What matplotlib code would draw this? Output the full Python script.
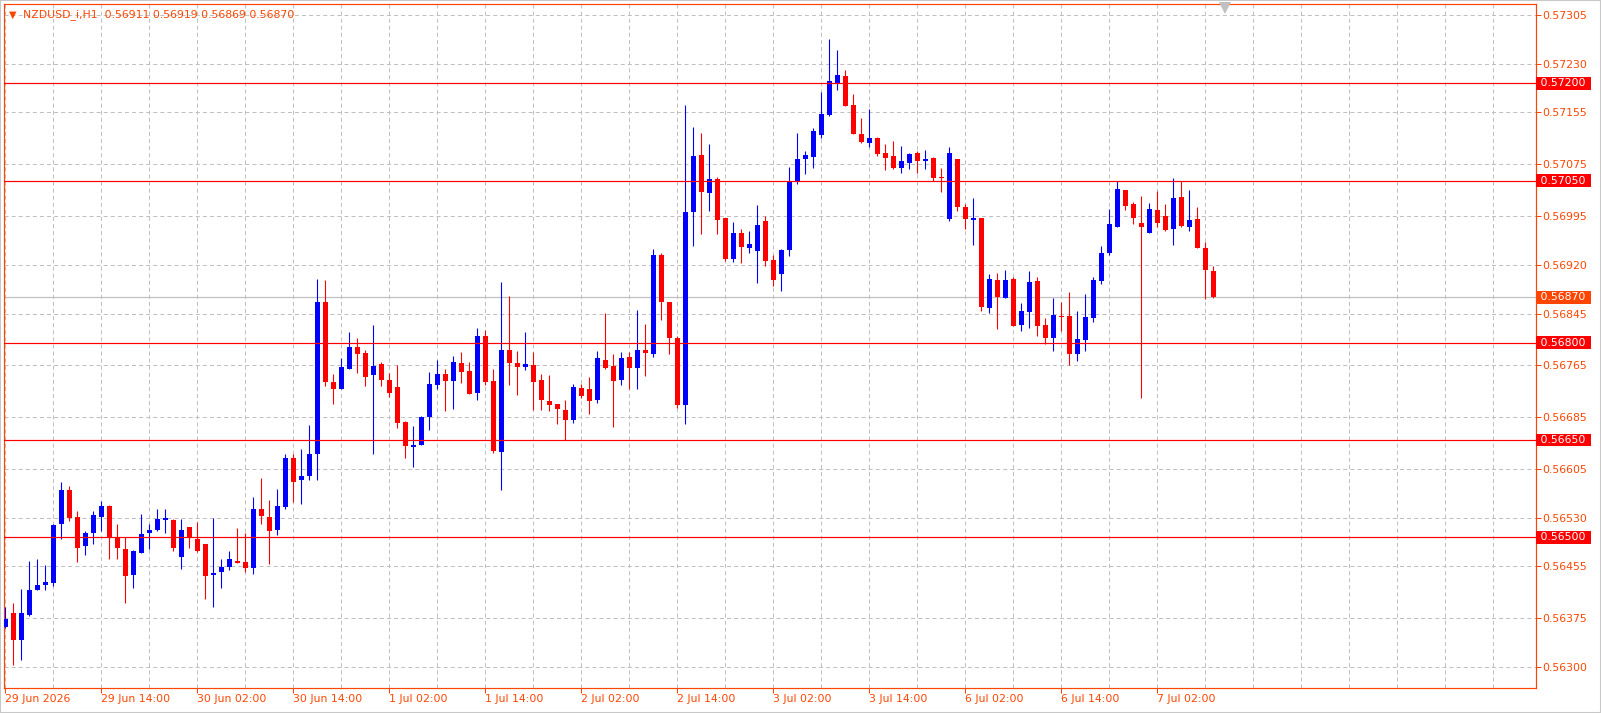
import matplotlib
matplotlib.use('Agg')
import matplotlib.pyplot as plt
from matplotlib.patches import Rectangle
import numpy as np

plt.rcParams['lines.scale_dashes'] = False
plt.rcParams['font.family'] = ['DejaVu Sans']

# H1 bars from 29 Jun 02:00
opens = [0.56362, 0.56383, 0.56341, 0.56380, 0.56419, 0.56427, 0.56429, 0.56520, 0.56573, 0.56531,
         0.56486, 0.56507, 0.56532, 0.56548, 0.56500, 0.56482, 0.56442, 0.56476, 0.56506, 0.56512,
         0.56526, 0.56527, 0.56469, 0.56516, 0.56497, 0.56490, 0.56442, 0.56446, 0.56454, 0.56464,
         0.56462, 0.56452, 0.56544, 0.56531, 0.56511, 0.56546, 0.56623, 0.56588, 0.56594, 0.56628,
         0.56862, 0.56740, 0.56728, 0.56760, 0.56793, 0.56784, 0.56750, 0.56767, 0.56743, 0.56731,
         0.56677, 0.56639, 0.56642, 0.56686, 0.56735, 0.56751, 0.56741, 0.56768, 0.56757, 0.56723,
         0.56811, 0.56741, 0.56632, 0.56789, 0.56769, 0.56763, 0.56766, 0.56743, 0.56710, 0.56706,
         0.56696, 0.56681, 0.56730, 0.56729, 0.56712, 0.56773, 0.56764, 0.56743, 0.56778, 0.56761,
         0.56789, 0.56783, 0.56935, 0.56863, 0.56807, 0.56704, 0.57002, 0.57089, 0.57031, 0.57052,
         0.56992, 0.56929, 0.56969, 0.56946, 0.56941, 0.56988, 0.56928, 0.56906, 0.56943, 0.57048,
         0.57083, 0.57086, 0.57120, 0.57151, 0.57201, 0.57211, 0.57167, 0.57122, 0.57108, 0.57116,
         0.57093, 0.57088, 0.57069, 0.57077, 0.57093, 0.57080, 0.57085, 0.57056, 0.56991, 0.57083,
         0.57009, 0.56989, 0.56992, 0.56854, 0.56897, 0.56869, 0.56898, 0.56827, 0.56847, 0.56895,
         0.56827, 0.56807, 0.56841, 0.56841, 0.56783, 0.56804, 0.56838, 0.56895, 0.56938, 0.56979,
         0.57035, 0.57014, 0.56984, 0.56969, 0.57004, 0.56995, 0.56975, 0.57024, 0.56979, 0.56990,
         0.56946, 0.56911]
highs = [0.56393, 0.56399, 0.56420, 0.56464, 0.56467, 0.56457, 0.56520, 0.56585, 0.56579, 0.56541,
         0.56510, 0.56541, 0.56556, 0.56550, 0.56521, 0.56500, 0.56480, 0.56536, 0.56521, 0.56544,
         0.56544, 0.56528, 0.56528, 0.56516, 0.56524, 0.56490, 0.56530, 0.56467, 0.56479, 0.56514,
         0.56507, 0.56562, 0.56591, 0.56557, 0.56575, 0.56628, 0.56628, 0.56636, 0.56673, 0.56899,
         0.56896, 0.56751, 0.56776, 0.56817, 0.56808, 0.56788, 0.56828, 0.56771, 0.56754, 0.56765,
         0.56680, 0.56671, 0.56687, 0.56755, 0.56774, 0.56760, 0.56780, 0.56786, 0.56771, 0.56823,
         0.56819, 0.56760, 0.56894, 0.56872, 0.56787, 0.56817, 0.56786, 0.56752, 0.56750, 0.56706,
         0.56712, 0.56736, 0.56736, 0.56747, 0.56787, 0.56846, 0.56783, 0.56786, 0.56786, 0.56850,
         0.56829, 0.56945, 0.56938, 0.56863, 0.56810, 0.57167, 0.57133, 0.57123, 0.57106, 0.57056,
         0.56992, 0.56986, 0.56975, 0.56972, 0.57012, 0.56995, 0.56935, 0.56945, 0.57071, 0.57123,
         0.57096, 0.57131, 0.57187, 0.57268, 0.57251, 0.57221, 0.57184, 0.57147, 0.57160, 0.57117,
         0.57106, 0.57111, 0.57103, 0.57093, 0.57096, 0.57097, 0.57086, 0.57069, 0.57102, 0.57083,
         0.57014, 0.57023, 0.56992, 0.56906, 0.56908, 0.56912, 0.56901, 0.56861, 0.56911, 0.56901,
         0.56838, 0.56869, 0.56862, 0.56878, 0.56849, 0.56875, 0.56902, 0.56949, 0.57006, 0.57049,
         0.57035, 0.57017, 0.57026, 0.57015, 0.57034, 0.57014, 0.57054, 0.57049, 0.57035, 0.57010,
         0.56955, 0.56919]
lows = [0.56360, 0.56303, 0.56311, 0.56379, 0.56419, 0.56419, 0.56425, 0.56497, 0.56525, 0.56462,
        0.56472, 0.56490, 0.56509, 0.56466, 0.56466, 0.56398, 0.56422, 0.56476, 0.56482, 0.56510,
        0.56507, 0.56479, 0.56451, 0.56483, 0.56478, 0.56405, 0.56393, 0.56422, 0.56449, 0.56460,
        0.56447, 0.56444, 0.56520, 0.56459, 0.56503, 0.56543, 0.56555, 0.56551, 0.56588, 0.56588,
        0.56734, 0.56705, 0.56728, 0.56759, 0.56753, 0.56734, 0.56629, 0.56733, 0.56716, 0.56668,
        0.56622, 0.56608, 0.56642, 0.56665, 0.56729, 0.56695, 0.56698, 0.56738, 0.56721, 0.56711,
        0.56735, 0.56630, 0.56573, 0.56735, 0.56719, 0.56758, 0.56696, 0.56696, 0.56695, 0.56675,
        0.56650, 0.56676, 0.56715, 0.56690, 0.56707, 0.56759, 0.56670, 0.56735, 0.56729, 0.56729,
        0.56749, 0.56778, 0.56835, 0.56783, 0.56699, 0.56675, 0.56949, 0.56968, 0.57003, 0.56968,
        0.56926, 0.56924, 0.56923, 0.56938, 0.56892, 0.56918, 0.56887, 0.56880, 0.56934, 0.57045,
        0.57060, 0.57069, 0.57116, 0.57150, 0.57190, 0.57165, 0.57122, 0.57108, 0.57102, 0.57088,
        0.57066, 0.57068, 0.57062, 0.57068, 0.57062, 0.57068, 0.57049, 0.57032, 0.56988, 0.57003,
        0.56975, 0.56951, 0.56849, 0.56846, 0.56821, 0.56869, 0.56826, 0.56818, 0.56823, 0.56810,
        0.56798, 0.56787, 0.56818, 0.56766, 0.56772, 0.56787, 0.56832, 0.56891, 0.56935, 0.56979,
        0.57005, 0.56983, 0.56715, 0.56969, 0.56979, 0.56972, 0.56951, 0.56979, 0.56972, 0.56946,
        0.56868, 0.56869]
closes = [0.56374, 0.56341, 0.56383, 0.56419, 0.56427, 0.56431, 0.56519, 0.56573, 0.56530, 0.56484,
          0.56507, 0.56534, 0.56548, 0.56500, 0.56483, 0.56441, 0.56479, 0.56505, 0.56511, 0.56528,
          0.56529, 0.56483, 0.56511, 0.56500, 0.56479, 0.56441, 0.56445, 0.56454, 0.56467, 0.56461,
          0.56452, 0.56544, 0.56533, 0.56509, 0.56548, 0.56622, 0.56586, 0.56594, 0.56629, 0.56862,
          0.56740, 0.56728, 0.56763, 0.56794, 0.56782, 0.56747, 0.56764, 0.56743, 0.56722, 0.56676,
          0.56640, 0.56643, 0.56686, 0.56737, 0.56751, 0.56741, 0.56771, 0.56755, 0.56721, 0.56811,
          0.56740, 0.56633, 0.56788, 0.56769, 0.56763, 0.56767, 0.56739, 0.56712, 0.56704, 0.56698,
          0.56681, 0.56732, 0.56718, 0.56710, 0.56776, 0.56761, 0.56741, 0.56776, 0.56761, 0.56789,
          0.56784, 0.56935, 0.56863, 0.56807, 0.56704, 0.57002, 0.57088, 0.57032, 0.57052, 0.56989,
          0.56929, 0.56969, 0.56948, 0.56952, 0.56982, 0.56926, 0.56897, 0.56943, 0.57048, 0.57083,
          0.57089, 0.57126, 0.57153, 0.57204, 0.57213, 0.57165, 0.57122, 0.57110, 0.57116, 0.57091,
          0.57085, 0.57069, 0.57080, 0.57091, 0.57080, 0.57083, 0.57054, 0.57054, 0.57093, 0.57009,
          0.56991, 0.56992, 0.56855, 0.56898, 0.56871, 0.56897, 0.56826, 0.56849, 0.56894, 0.56826,
          0.56807, 0.56842, 0.56840, 0.56783, 0.56805, 0.56839, 0.56896, 0.56939, 0.56983, 0.57037,
          0.57011, 0.56992, 0.56979, 0.57006, 0.56985, 0.56974, 0.57023, 0.56980, 0.56989, 0.56946,
          0.56912, 0.56870]

symbol = 'NZDUSD_i,H1'
time_labels = ['29 Jun 2026', '29 Jun 14:00', '30 Jun 02:00', '30 Jun 14:00', '1 Jul 02:00',
               '1 Jul 14:00', '2 Jul 02:00', '2 Jul 14:00', '3 Jul 02:00', '3 Jul 14:00',
               '6 Jul 02:00', '6 Jul 14:00', '7 Jul 02:00']
price_ticks = [0.57305, 0.57230, 0.57155, 0.57075, 0.56995, 0.56920, 0.56845,
               0.56765, 0.56685, 0.56605, 0.56530, 0.56455, 0.56375, 0.56300]
levels = [0.57200, 0.57050, 0.56800, 0.56650, 0.56500]

FG = '#FF4500'
BULL = '#0000FF'
BEAR = '#FF0000'
GRID = '#C0C0C0'
W, H = 1601, 713
px = 72 / 100  # one pixel in points

o = np.array(opens)
h = np.array(highs)
l = np.array(lows)
c = np.array(closes)
x = np.arange(len(o))

fig = plt.figure(figsize=(W / 100, H / 100), dpi=100)
ax = fig.add_axes([4 / W, 1 - 687.5 / H, 1531.5 / W, 684 / H])
ax.set_xlim(-0.16, 191.27)
ax.set_ylim(0.562684, 0.573230)

# grid
for p in price_ticks:
    ax.axhline(p, color=GRID, lw=px, dashes=(2.9, 2.2), zorder=1)
for g in range(0, 192, 6):
    ax.axvline(g, color=GRID, lw=px, dashes=(2.9, 2.2), zorder=1)

# bid line
ax.axhline(c[-1], color=GRID, lw=1.2 * px, zorder=2)

# candles
cols = np.where(c >= o, BULL, BEAR)
ax.vlines(x, l, h, colors=cols, lw=1.1 * px, zorder=3)
body_h = np.maximum(np.abs(c - o), 0.000016)
ax.bar(x, body_h, width=0.6, bottom=np.minimum(o, c), color=cols, linewidth=0, zorder=4)

# horizontal levels
for p in levels:
    ax.axhline(p, color='#FF0000', lw=1.2 * px, zorder=5)

for s in ax.spines.values():
    s.set_color(FG)
    s.set_linewidth(1.2 * px)

ax.yaxis.tick_right()
ax.set_yticks(price_ticks)
ax.set_yticklabels([f'{p:.5f}' for p in price_ticks])
ax.tick_params(axis='y', colors=FG, length=5 * px, width=px, pad=1.5, labelsize=7.8)

ax.set_xticks(range(0, 12 * len(time_labels), 12))
ax.set_xticklabels(time_labels, ha='left')
ax.tick_params(axis='x', colors=FG, length=5 * px, width=px, pad=1.0, labelsize=7.8)

# price boxes on the right scale
tr = ax.get_yaxis_transform()
for p in levels:
    ax.text(1.0012, p, f' {p:.5f} ', transform=tr, color='white', fontsize=7.8,
            va='center', ha='left', clip_on=False,
            bbox=dict(boxstyle='square,pad=0.12', fc='#FF0000', ec='none'))
ax.text(1.0012, c[-1], f' {c[-1]:.5f} ', transform=tr, color='white', fontsize=7.8,
        va='center', ha='left', clip_on=False,
        bbox=dict(boxstyle='square,pad=0.12', fc=FG, ec='none'))

# chart shift marker
ax.plot([152.5], [0.993], marker='v', color=GRID, markersize=8, markeredgewidth=0,
        transform=ax.get_xaxis_transform(), clip_on=False, zorder=6)

# header
fig.text(12.5 / W, 1 - 14.5 / H, '\u25bc', color=FG, fontsize=7, ha='center', va='center')
fig.text(23 / W, 1 - 14.5 / H,
         f'{symbol}  {o[-1]:.5f} {h[-1]:.5f} {l[-1]:.5f} {c[-1]:.5f}',
         color=FG, fontsize=7.8, ha='left', va='center')

# window edge
fig.patches.append(Rectangle((0, 0), 1, 1, transform=fig.transFigure, fill=False,
                             ec='#C8C8C8', lw=1.5, zorder=0))

fig.savefig('out.png', dpi=100)
